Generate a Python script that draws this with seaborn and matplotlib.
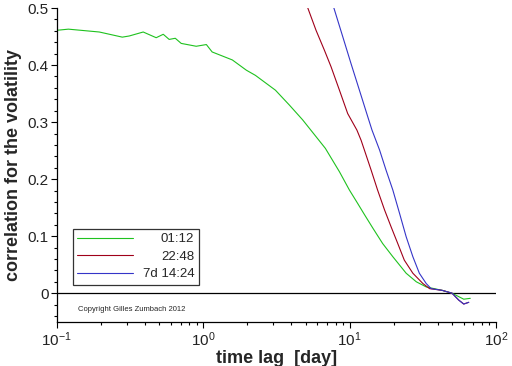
import numpy as np
import pandas as pd
import matplotlib as mpl
import matplotlib.pyplot as plt
import seaborn as sns
from matplotlib.ticker import LogLocator, MultipleLocator, NullFormatter

mpl.use("Agg")

# values (time lag in days, correlation)
green_lag = [0.1, 0.12, 0.195, 0.28, 0.312, 0.389, 0.477, 0.533, 0.585, 0.644, 0.707,
             0.895, 1.05, 1.15, 1.58, 1.97, 2.27, 3.11, 3.87, 4.77, 6.04, 6.82, 8.51,
             9.95, 11.3, 12.6, 14.4, 16.8, 19.7, 24.3, 28.5, 33.3, 42.8, 50.0, 55.5,
             60.1, 66.6]
green_corr = [0.461, 0.463, 0.458, 0.449, 0.451, 0.458, 0.448, 0.454, 0.445, 0.447, 0.438,
              0.433, 0.436, 0.423, 0.409, 0.391, 0.382, 0.356, 0.330, 0.304, 0.271, 0.254, 0.213,
              0.181, 0.158, 0.138, 0.114, 0.087, 0.064, 0.035, 0.020, 0.011, 0.005, 0.0, -0.006,
              -0.0105, -0.009]

red_lag = [5.16, 5.89, 6.72, 7.46, 8.51, 9.69, 11.2, 11.97, 12.6, 14.0, 15.5, 17.3,
           19.2, 21.3, 23.6, 27.0, 31.6, 35.1, 42.8, 50.0, 55.5, 60.1, 65.0]
red_corr = [0.501, 0.461, 0.426, 0.397, 0.356, 0.315, 0.286, 0.268, 0.251, 0.216, 0.181, 0.146,
            0.116, 0.087, 0.058, 0.035, 0.017, 0.008, 0.005, 0.0, -0.012, -0.019, -0.016]

blue_lag = [7.78, 8.96, 10.2, 11.65, 13.3, 14.2, 16.0, 17.7, 19.7, 21.9, 24.3, 27.0,
            29.9, 33.3, 36.0, 42.8, 50.0, 55.5, 60.1, 65.0]
blue_corr = [0.501, 0.450, 0.403, 0.356, 0.309, 0.286, 0.251, 0.216, 0.181, 0.140, 0.099, 0.064,
             0.035, 0.017, 0.008, 0.005, 0.0, -0.012, -0.019, -0.016]

LABELS = ["01:12", "22:48", "7d 14:24"]
PALETTE = {"01:12": "#1fc21f", "22:48": "#a0001a", "7d 14:24": "#3535c8"}

frames = []
for name, lag, corr in zip(LABELS, [green_lag, red_lag, blue_lag],
                           [green_corr, red_corr, blue_corr]):
    frames.append(pd.DataFrame({"lag": lag, "corr": corr, "series": name}))
data = pd.concat(frames, ignore_index=True)

sns.set_theme(style="ticks")
plt.rcParams["font.family"] = ["Liberation Sans", "DejaVu Sans"]
plt.rcParams["mathtext.fontset"] = "custom"
plt.rcParams["mathtext.rm"] = "Liberation Sans"
plt.rcParams["mathtext.it"] = "Liberation Sans:italic"

fig = plt.figure(figsize=(5.12, 3.66), dpi=100)
ax = fig.add_axes([0.111, 0.121, 0.858, 0.857])

sns.lineplot(data=data, x="lag", y="corr", hue="series", palette=PALETTE,
             hue_order=LABELS, sort=False, estimator=None, lw=0.8, ax=ax)
ax.axhline(0, color="black", lw=0.9, zorder=1)

ax.set_xscale("log")
ax.set_xlim(0.1, 100)
ax.set_ylim(-0.05, 0.5)
ax.xaxis.set_major_locator(LogLocator(base=10))
ax.xaxis.set_minor_locator(LogLocator(base=10, subs=np.arange(2, 10)))
ax.xaxis.set_minor_formatter(NullFormatter())
ax.yaxis.set_minor_locator(MultipleLocator(0.02))
ax.set_yticks([0, 0.1, 0.2, 0.3, 0.4, 0.5])
ax.set_yticklabels(["0", "0.1", "0.2", "0.3", "0.4", "0.5"])

sns.despine(ax=ax)
for side in ["left", "bottom"]:
    ax.spines[side].set_linewidth(0.9)
    ax.spines[side].set_color("black")
ax.tick_params(which="major", length=4, width=0.8, color="black",
               labelsize=11, pad=2, labelcolor="#222222")
ax.tick_params(which="minor", length=2.5, width=0.8, color="black")

ax.set_xlabel("time lag  [day]", fontsize=13, fontweight="bold", labelpad=1)
ax.set_ylabel("correlation for the volatility", fontsize=13, fontweight="bold", labelpad=4)

leg = ax.legend(loc="lower left", bbox_to_anchor=(0.036, 0.117), borderaxespad=0,
                frameon=True, fancybox=False, handlelength=4.2, fontsize=9.5,
                borderpad=0.35, labelspacing=0.4, handletextpad=0.75)
leg.get_frame().set_edgecolor("black")
leg.get_frame().set_linewidth(0.9)
for line in leg.get_lines():
    line.set_linewidth(0.8)

# right-align the legend labels
fig.canvas.draw()
renderer = fig.canvas.get_renderer()
widths = [t.get_window_extent(renderer).width for t in leg.get_texts()]
shift = max(widths)
for t, w in zip(leg.get_texts(), widths):
    t.set_position((shift - w, 0))

ax.text(0.048, 0.04, "Copyright Gilles Zumbach 2012", transform=ax.transAxes,
        fontsize=5.5, va="center", ha="left")

fig.savefig("out.png", dpi=100)
